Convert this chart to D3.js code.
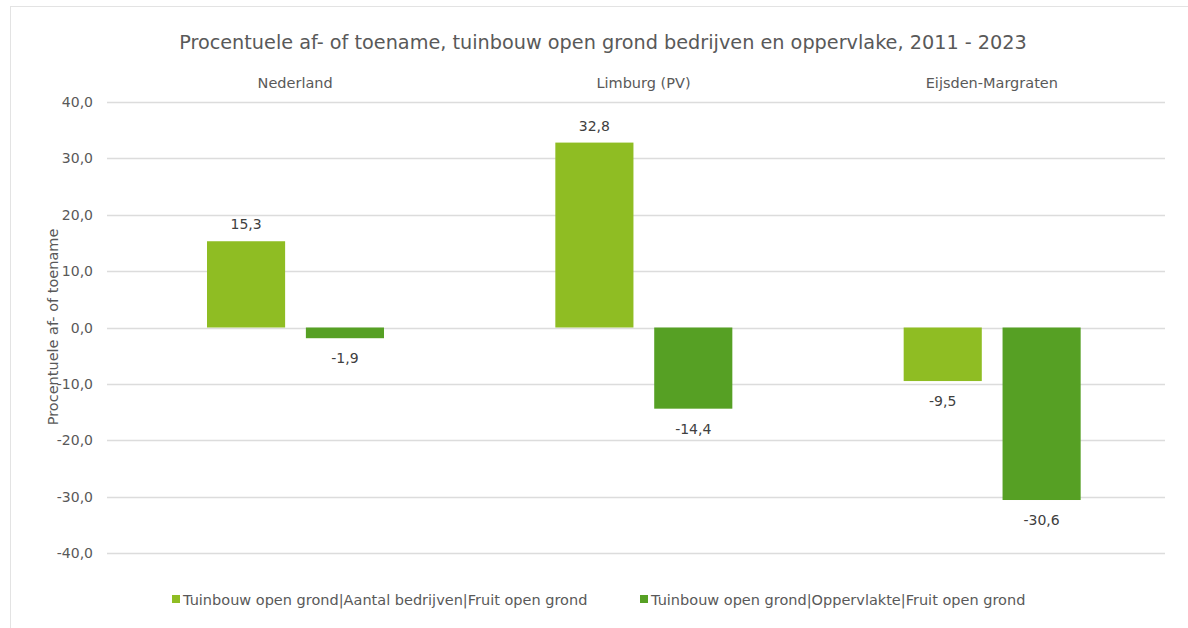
<!DOCTYPE html>
<html lang="nl">
<head>
  <meta charset="UTF-8">
  <title>Procentuele af- of toename</title>
  <style>
    html, body {
      margin: 0;
      background: #fff;
      overflow: hidden;
      width: 100%;
      height: 100%;
    }
    svg {
      position: absolute;
      top: 0;
      left: 0;
      font-family: "DejaVu Sans", "Open Sans", sans-serif;
    }
  </style>
</head>
<body>
  <svg width="1188" height="628"></svg>
</body>
<script src="https://d3js.org/d3.v7.min.js"></script>
<script type="text/javascript">
  const regions = ['Nederland', 'Limburg (PV)', 'Eijsden-Margraten']
  const seriesNames = [
    'Tuinbouw open grond|Aantal bedrijven|Fruit open grond',
    'Tuinbouw open grond|Oppervlakte|Fruit open grond'
  ]
  const aantalBedrijven = [15.3, 32.8, -9.5]
  const oppervlakte = [-1.9, -14.4, -30.6]
  const yTicks = [40, 30, 20, 10, 0, -10, -20, -30, -40]
  const colors = ['#8fbd23', '#56a024']

  const svg = d3.select('svg')
  const fmt = v => v.toFixed(1).replace('.', ',')

  // frame
  svg.append('rect')
    .attr('x', 10.5).attr('y', 6.5)
    .attr('width', 1200).attr('height', 640)
    .attr('fill', 'none')
    .attr('stroke', '#e3e3e3')

  const y = d3.scaleLinear().domain([-40, 40]).range([553, 102])
  const x0 = d3.scaleBand().domain(regions).range([121, 1166])
  const x1 = d3.scaleBand().domain([0, 1]).range([86, 263]).paddingInner(0.21)

  // gridlines + tick labels
  svg.append('g')
    .selectAll('line')
    .data(yTicks)
    .join('line')
    .attr('x1', 107).attr('x2', 1165)
    .attr('y1', d => Math.round(y(d)) + 0.5)
    .attr('y2', d => Math.round(y(d)) + 0.5)
    .attr('stroke', '#dcdcdc')
    .attr('stroke-width', 1.5)

  svg.append('g')
    .selectAll('text')
    .data(yTicks)
    .join('text')
    .attr('x', 93)
    .attr('y', d => y(d) + 5)
    .attr('text-anchor', 'end')
    .attr('font-size', 14)
    .attr('fill', '#595959')
    .text(fmt)

  // title
  svg.append('text')
    .attr('x', 603).attr('y', 49)
    .attr('text-anchor', 'middle')
    .attr('font-size', 19.25)
    .attr('fill', '#595959')
    .text('Procentuele af- of toename, tuinbouw open grond bedrijven en oppervlake, 2011 - 2023')

  // y axis title
  svg.append('text')
    .attr('transform', 'translate(58,327) rotate(-90)')
    .attr('text-anchor', 'middle')
    .attr('font-size', 14.5)
    .attr('fill', '#595959')
    .text('Procentuele af- of toename')

  // region labels
  svg.append('g')
    .selectAll('text')
    .data(regions)
    .join('text')
    .attr('x', d => x0(d) + x0.bandwidth() / 2)
    .attr('y', 88)
    .attr('text-anchor', 'middle')
    .attr('font-size', 14.5)
    .attr('fill', '#595959')
    .text(d => d)

  const series = [aantalBedrijven, oppervlakte]
  const bars = []
  series.forEach((vals, s) => {
    vals.forEach((v, i) => bars.push({ region: regions[i], s, v }))
  })

  svg.append('g')
    .selectAll('rect')
    .data(bars)
    .join('rect')
    .attr('x', d => x0(d.region) + x1(d.s))
    .attr('width', x1.bandwidth())
    .attr('y', d => y(Math.max(0, d.v)))
    .attr('height', d => Math.abs(y(d.v) - y(0)))
    .attr('fill', d => colors[d.s])

  svg.append('g')
    .selectAll('text')
    .data(bars)
    .join('text')
    .attr('x', d => x0(d.region) + x1(d.s) + x1.bandwidth() / 2)
    .attr('y', d => d.v >= 0 ? y(d.v) - 12 : y(d.v) + 25)
    .attr('text-anchor', 'middle')
    .attr('font-size', 14)
    .attr('fill', '#404040')
    .text(d => fmt(d.v))

  // legend
  const legendX = [172, 640]
  const legend = svg.append('g')
    .selectAll('g')
    .data(seriesNames)
    .join('g')
    .attr('transform', (d, i) => 'translate(' + legendX[i] + ',600)')

  legend.append('rect')
    .attr('x', 0).attr('y', -5)
    .attr('width', 8).attr('height', 8)
    .attr('fill', (d, i) => colors[i])

  legend.append('text')
    .attr('x', 11).attr('y', 5)
    .attr('font-size', 14.5)
    .attr('fill', '#595959')
    .text(d => d)
</script>
</html>
